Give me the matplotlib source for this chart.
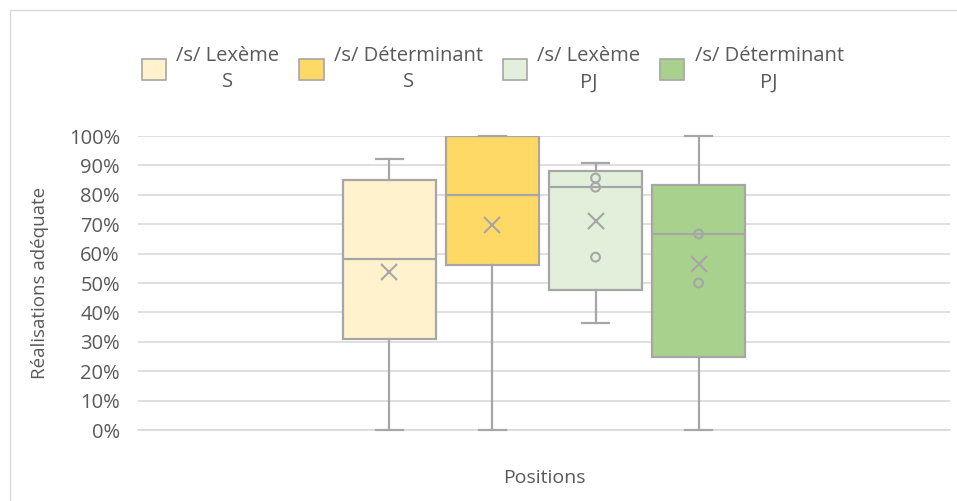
import matplotlib.pyplot as plt
from matplotlib.patches import Patch, Rectangle

labels = ['/s/ Lexème\nS', '/s/ Déterminant\nS', '/s/ Lexème\nPJ', '/s/ Déterminant\nPJ']
whislo = [0.0, 0.0, 36.4, 0.0]
q1 = [30.8, 56.2, 47.6, 25.0]
med = [58.3, 80.0, 82.6, 66.7]
q3 = [85.0, 100.0, 88.2, 83.3]
whishi = [92.3, 100.0, 90.9, 100.0]
means = [53.8, 69.7, 71.0, 56.6]
inner_points = [[], [], [85.7, 82.6, 58.8], [66.7, 50.0]]
colors = ['#FFF2CC', '#FFD966', '#E2EFDA', '#A9D18E']

plt.rcParams['font.family'] = ['Open Sans', 'DejaVu Sans']
edge = '#A6A6A6'
text_col = '#595959'

fig = plt.figure(figsize=(9.57, 5.01), dpi=100)
fig.patches.append(Rectangle((0.010, -0.1), 1.1, 1.08, transform=fig.transFigure,
                             fill=False, edgecolor='#D9D9D9', lw=1))
ax = fig.add_axes([0.1442, 0.1417, 0.8485, 0.5868])

positions = [1, 2, 3, 4]
stats = []
for i in range(4):
    stats.append(dict(whislo=whislo[i], q1=q1[i], med=med[i], q3=q3[i],
                      whishi=whishi[i], mean=means[i], fliers=[]))

bp = ax.bxp(stats, positions=positions, widths=0.9, capwidths=0.27,
            patch_artist=True, showmeans=True, showfliers=False,
            boxprops=dict(edgecolor=edge, lw=1.6),
            medianprops=dict(color=edge, lw=1.6),
            whiskerprops=dict(color=edge, lw=1.6),
            capprops=dict(color=edge, lw=1.6),
            meanprops=dict(marker='x', markeredgecolor=edge, markersize=12, markeredgewidth=1.5))
for patch, c in zip(bp['boxes'], colors):
    patch.set_facecolor(c)
    patch.set_zorder(2)
for cap in bp['caps']:
    cap.set_zorder(5)
    cap.set_clip_on(False)

for p, pts in zip(positions, inner_points):
    if pts:
        ax.scatter([p] * len(pts), pts, s=40, facecolors='none', edgecolors=edge,
                   linewidths=1.5, zorder=4)

ax.set_xlim(-1.44, 6.44)
ax.set_ylim(0, 100)
ax.set_yticks(range(0, 101, 10))
ax.set_yticklabels([f'{v}%' for v in range(0, 101, 10)], fontsize=14.5, color=text_col)
ax.set_xticks([])
ax.grid(axis='y', color='#D9D9D9', lw=1.2, zorder=0)
ax.set_axisbelow(True)
for s in ['top', 'right', 'left']:
    ax.spines[s].set_visible(False)
ax.spines['bottom'].set_color('#D9D9D9')
ax.spines['bottom'].set_linewidth(1.2)
ax.tick_params(axis='y', length=0, pad=13)

ax.set_ylabel('Réalisations adéquate', fontsize=13.5, color=text_col, labelpad=14)
ax.set_xlabel('Positions', fontsize=14, color=text_col, labelpad=28)

handles = [Patch(facecolor=c, edgecolor=edge, lw=1.2) for c in colors]
leg = fig.legend(handles, labels, loc='upper center', bbox_to_anchor=(0.515, 0.945),
                 ncol=4, frameon=False, fontsize=14.5, handlelength=1.2, handleheight=1.2,
                 columnspacing=1.0, handletextpad=0.5)
for t in leg.get_texts():
    t.set_multialignment('center')
    t.set_color(text_col)
    t.set_linespacing(1.45)

fig.savefig('out.png', dpi=100)
